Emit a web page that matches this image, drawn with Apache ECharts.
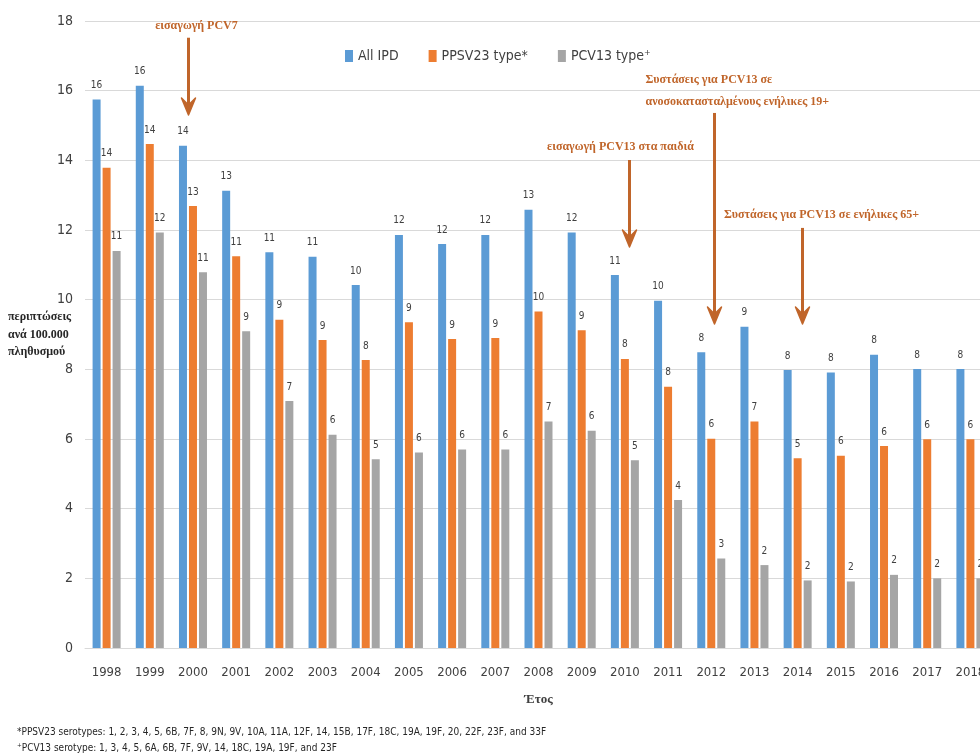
<!DOCTYPE html>
<html>
<head>
<meta charset="utf-8">
<script src="https://cdn.jsdelivr.net/npm/echarts@6/dist/echarts.min.js"></script>
<style>
  html, body { margin: 0; padding: 0; background: #ffffff; }
  #chart { width: 980px; height: 755px; }
</style>
</head>
<body>
<div id="chart"></div>
<script>
// Invasive pneumococcal disease, cases per 100,000 population, by year
const years = ['1998', '1999', '2000', '2001', '2002', '2003', '2004', '2005', '2006', '2007',
               '2008', '2009', '2010', '2011', '2012', '2013', '2014', '2015', '2016', '2017', '2018'];

const allIpd = [15.75, 16.14, 14.42, 13.13, 11.36, 11.23, 10.42, 11.86, 11.60, 11.86,
                12.58, 11.93, 10.71, 9.97, 8.49, 9.22, 7.98, 7.91, 8.42, 8.01, 8.01];

const ppsv23Type = [13.79, 14.47, 12.69, 11.25, 9.42, 8.84, 8.27, 9.35, 8.87, 8.90,
                    9.66, 9.12, 8.30, 7.50, 6.01, 6.50, 5.45, 5.52, 5.80, 5.99, 5.99];

const pcv13Type = [11.40, 11.93, 10.79, 9.09, 7.09, 6.12, 5.42, 5.61, 5.70, 5.70,
                   6.50, 6.24, 5.39, 4.25, 2.57, 2.38, 1.94, 1.91, 2.10, 2.00, 2.00];

const seriesNames = ['All IPD', 'PPSV23 type*', 'PCV13 type\u207A'];

// Vaccine milestones marked above the bars
const notes = [
  { year: '2000', lines: ['εισαγωγή PCV7'] },
  { year: '2010', lines: ['εισαγωγή PCV13 στα παιδιά'] },
  { year: '2012', lines: ['Συστάσεις για PCV13 σε', 'ανοσοκατασταλμένους ενήλικες 19+'] },
  { year: '2014', lines: ['Συστάσεις για PCV13 σε ενήλικες 65+'] }
];

const footnotes = [
  '*PPSV23 serotypes: 1, 2, 3, 4, 5, 6B, 7F, 8, 9N, 9V, 10A, 11A, 12F, 14, 15B, 17F, 18C, 19A, 19F, 20, 22F, 23F, and 33F',
  '\u207APCV13 serotype: 1, 3, 4, 5, 6A, 6B, 7F, 9V, 14, 18C, 19A, 19F, and 23F'
];

const yAxisTitle = ['περιπτώσεις', 'ανά 100.000', 'πληθυσμού'];
const xAxisTitle = 'Έτος';

// ---- styling ----
const NARROW = "'DejaVu Sans Condensed', 'Liberation Sans Narrow', sans-serif";
const SERIF = "'Liberation Serif', 'Times New Roman', serif";
const NOTE_COLOR = '#c0652a';
const colors = ['#5B9BD5', '#ED7D31', '#A5A5A5'];

// arrow/text placement for each milestone (x offset in px from the category centre, y in axis units)
const noteLayout = [
  { dx: -5,  from: 17.52, to: 15.30, textDx: 8,   textAt: 17.86, align: 'center' },
  { dx: 4.5, from: 14.01, to: 11.51, textDx: -9,  textAt: 14.38, align: 'center' },
  { dx: 3,   from: 15.36, to: 9.30,  textDx: -69, textAt: 15.99, align: 'left' },
  { dx: 4,   from: 12.06, to: 9.30,  textDx: 19,  textAt: 12.43, align: 'center' }
];

const chart = echarts.init(document.getElementById('chart'), null, { renderer: 'canvas' });

function barSeries(name, data, color) {
  return {
    name: name,
    type: 'bar',
    data: data,
    barWidth: 8,
    barGap: '25%',
    itemStyle: { color: color },
    label: {
      show: true,
      position: 'top',
      distance: 9,
      fontFamily: NARROW,
      fontSize: 10,
      color: '#404040',
      formatter: p => String(Math.round(p.value))
    }
  };
}

chart.setOption({
  backgroundColor: '#ffffff',
  animation: false,
  color: colors,
  textStyle: { fontFamily: NARROW },
  grid: { left: 85, top: 21, width: 907, height: 627, containLabel: false, outerBoundsMode: 'none' },
  legend: {
    left: 345,
    top: 49,
    padding: 0,
    icon: 'rect',
    itemWidth: 8,
    itemHeight: 12,
    itemGap: 30,
    textStyle: { fontFamily: NARROW, fontSize: 14, color: '#404040' },
    data: seriesNames
  },
  xAxis: {
    type: 'category',
    data: years,
    axisTick: { show: false },
    axisLine: { lineStyle: { color: '#d9d9d9', width: 1 } },
    axisLabel: { interval: 0, fontFamily: NARROW, fontSize: 13, color: '#404040', margin: 18 },
    name: xAxisTitle,
    nameLocation: 'middle',
    nameGap: 45,
    nameTextStyle: { fontFamily: SERIF, fontWeight: 'bold', fontSize: 13, color: '#404040' }
  },
  yAxis: {
    type: 'value',
    min: 0,
    max: 18,
    interval: 2,
    axisLine: { show: false },
    axisTick: { show: false },
    splitLine: { lineStyle: { color: '#d9d9d9', width: 1 } },
    axisLabel: { fontFamily: NARROW, fontSize: 14, color: '#404040', margin: 12 }
  },
  series: [
    barSeries(seriesNames[0], allIpd, colors[0]),
    barSeries(seriesNames[1], ppsv23Type, colors[1]),
    barSeries(seriesNames[2], pcv13Type, colors[2])
  ]
});

// ---- annotations, placed through the chart's own axes ----
function px(year, value) {
  return chart.convertToPixel({ gridIndex: 0 }, [year, value]);
}

const graphics = [];

notes.forEach((note, i) => {
  const lay = noteLayout[i];
  const start = px(note.year, lay.from);
  const tip = px(note.year, lay.to);
  const x = Math.round(start[0] + lay.dx) + 0.5;
  const textPos = px(note.year, lay.textAt);

  graphics.push({
    type: 'line',
    shape: { x1: x, y1: start[1], x2: x, y2: tip[1] - 3 },
    style: { stroke: NOTE_COLOR, lineWidth: 3 },
    silent: true
  });
  graphics.push({
    type: 'polygon',
    shape: { points: [[x - 7, tip[1] - 17], [x, tip[1] - 10], [x + 7, tip[1] - 17], [x, tip[1]]] },
    style: { fill: NOTE_COLOR, stroke: NOTE_COLOR, lineWidth: 1.5, lineJoin: 'round' },
    silent: true
  });
  graphics.push({
    type: 'text',
    x: x + lay.textDx,
    y: textPos[1],
    style: {
      text: note.lines.join('\n'),
      fontFamily: SERIF,
      fontWeight: 'bold',
      fontSize: 12,
      lineHeight: 22,
      fill: NOTE_COLOR,
      align: lay.align,
      verticalAlign: 'middle'
    },
    silent: true
  });
});

// multi-line vertical-axis title, level with the middle of the axis
const midY = px(years[0], 9)[1];
graphics.push({
  type: 'text',
  x: 8,
  y: midY,
  style: {
    text: yAxisTitle.join('\n'),
    fontFamily: SERIF,
    fontWeight: 'bold',
    fontSize: 12,
    lineHeight: 17.5,
    fill: '#262626',
    align: 'left',
    verticalAlign: 'middle'
  },
  silent: true
});

// serotype footnotes
footnotes.forEach((t, i) => {
  graphics.push({
    type: 'text',
    x: 17,
    y: 732 + i * 16,
    style: {
      text: t,
      fontFamily: NARROW,
      fontSize: 10,
      fill: '#262626',
      align: 'left',
      verticalAlign: 'middle'
    },
    silent: true
  });
});

chart.setOption({ graphic: graphics });
</script>
</body>
</html>
